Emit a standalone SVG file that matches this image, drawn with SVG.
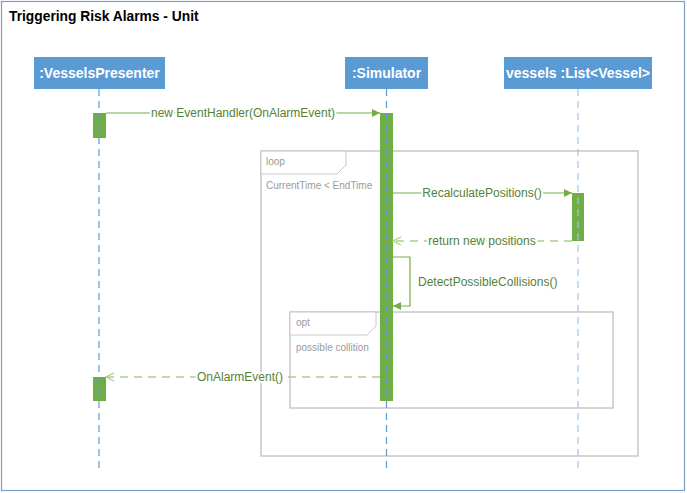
<svg xmlns="http://www.w3.org/2000/svg" width="687" height="493" viewBox="0 0 687 493">
<defs>
<marker id="filled" viewBox="0 0 8 8" refX="8" refY="4" markerWidth="8" markerHeight="8" markerUnits="userSpaceOnUse" orient="auto">
<path d="M0,0 L8,4 L0,8 Z" fill="#70ad47"/>
</marker>
<marker id="open" viewBox="0 0 10 10" refX="9" refY="5" markerWidth="10" markerHeight="10" markerUnits="userSpaceOnUse" orient="auto">
<path d="M1,1 L9,5 L1,9" fill="none" stroke="#a9d18e" stroke-width="1.3"/>
</marker>
</defs>
<style>
.head{fill:#5b9bd5}
.headtxt{font-family:"Liberation Sans",Arial,sans-serif;font-weight:bold;font-size:14px;fill:#fff;text-anchor:middle}
.life{stroke:#5b9bd5;stroke-width:1.2;stroke-dasharray:7 5;fill:none}
.act{fill:#70ad47}
.msg{stroke:#70ad47;stroke-width:1.2;fill:none}
.ret{stroke:#a9d18e;stroke-width:1.6;stroke-dasharray:8 6;fill:none}
.lbl{font-family:"Liberation Sans",Arial,sans-serif;font-size:12px;fill:#548235;text-anchor:middle;dominant-baseline:central;stroke:#fff;stroke-width:4px;paint-order:stroke}
.frame{fill:none;stroke:#c8c8c8;stroke-width:1.5}
.tab{fill:#fff;stroke:#c8c8c8;stroke-width:1}
.ftxt{font-family:"Liberation Sans",Arial,sans-serif;font-size:10px;fill:#9a9a9a}
</style>
<rect x="1.5" y="1.5" width="683" height="489" fill="#fff" stroke="#7a9fcf" stroke-width="1.2"/>
<text x="9" y="21" font-family="'Liberation Sans',Arial,sans-serif" font-weight="bold" font-size="13.8" fill="#000">Triggering Risk Alarms - Unit</text>

<g id="loop-frame">
<rect class="frame" x="261" y="151" width="377" height="305"/>
<path class="tab" d="M261,151 H346 V165 L337,174 H261 Z"/>
<text class="ftxt" x="266" y="165">loop</text>
<text class="ftxt" x="266" y="189">CurrentTime &lt; EndTime</text>
</g>
<g id="opt-frame">
<rect class="frame" x="290" y="312" width="323" height="96"/>
<path class="tab" d="M290,312 H376 V326 L367,335 H290 Z"/>
<text class="ftxt" x="296" y="326">opt</text>
<text class="ftxt" x="296" y="351">possible collition</text>
</g>

<g id="vesselsPresenter">
<rect class="head" x="34" y="57" width="131" height="32"/>
<text class="headtxt" x="99.5" y="78">:VesselsPresenter</text>
<rect class="act" x="93" y="113" width="13" height="25"/>
<rect class="act" x="93" y="377" width="13" height="24"/>
<line class="life" x1="99" y1="89" x2="99" y2="469"/>
</g>
<g id="simulator">
<rect class="head" x="345" y="57" width="83" height="32"/>
<text class="headtxt" x="386.5" y="78">:Simulator</text>
<rect class="act" x="380" y="113" width="13" height="288"/>
<line class="life" x1="386.5" y1="89" x2="386.5" y2="469"/>
</g>
<g id="vessels">
<rect class="head" x="504" y="57" width="148" height="32"/>
<text class="headtxt" x="578" y="78">vessels :List&lt;Vessel&gt;</text>
<rect class="act" x="572" y="193" width="12" height="48"/>
<line class="life" x1="578" y1="89" x2="578" y2="469" style="stroke:#9dc3e6"/>
</g>

<g id="connectors">
<line class="msg" x1="106" y1="113" x2="380" y2="113" marker-end="url(#filled)"/>
<text class="lbl" x="243" y="113">new EventHandler(OnAlarmEvent)</text>
<line class="msg" x1="393" y1="193" x2="572" y2="193" marker-end="url(#filled)"/>
<text class="lbl" x="482" y="193">RecalculatePositions()</text>
<line class="ret" x1="572" y1="241" x2="393" y2="241" marker-end="url(#open)"/>
<text class="lbl" x="482" y="241">return new positions</text>
<path class="msg" d="M393,257 H410 V306 H393" marker-end="url(#filled)"/>
<text class="lbl" x="418" y="282" style="text-anchor:start">DetectPossibleCollisions()</text>
<line class="ret" x1="380" y1="377" x2="106" y2="377" marker-end="url(#open)"/>
<text class="lbl" x="240" y="377">OnAlarmEvent()</text>
</g>
</svg>
